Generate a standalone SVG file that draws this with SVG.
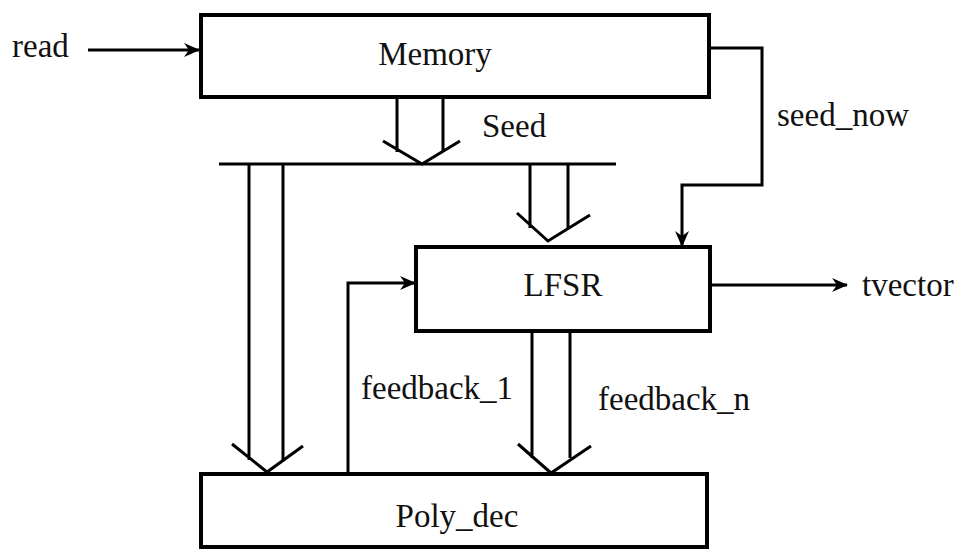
<svg xmlns="http://www.w3.org/2000/svg" width="962" height="550" viewBox="0 0 962 550">
<defs>
<marker id="ah" markerWidth="16" markerHeight="14" refX="15" refY="7" orient="auto" markerUnits="userSpaceOnUse">
<path d="M0,0 L16,7 L0,14 L5,7 Z" fill="#000"/>
</marker>
<style>
.box{fill:#fff;stroke:#000;stroke-width:4}
.ln{fill:none;stroke:#000;stroke-width:3}
.t{font-family:"Liberation Serif","Times New Roman",serif;font-size:33px;fill:#111}
</style>
</defs>
<rect width="962" height="550" fill="#fff"/>
<g id="connectors">
<path class="ln" d="M88,50 L199,50" marker-end="url(#ah)"/>
<path class="ln" d="M397,97 L397,152 M443,97 L443,152 M383,141 L422,164 L460,141"/>
<path class="ln" d="M219,164 L616,164"/>
<path class="ln" d="M249,164 L249,460 M283,164 L283,460 M232,444 L267,472 L303,446"/>
<path class="ln" d="M530,164 L530,228 M568,164 L568,228 M517,213 L548,241 L590,215"/>
<path class="ln" d="M532,331 L532,458 M570,331 L570,458 M518,444 L551,473 L591,446"/>
<path class="ln" d="M348,473 L348,283 L415,283" marker-end="url(#ah)"/>
<path class="ln" d="M709,48 L762,48 L762,185 L682,185 L682,246" marker-end="url(#ah)"/>
<path class="ln" d="M710,285 L847,285" marker-end="url(#ah)"/>
</g>
<g id="memory">
<rect class="box" x="201" y="15" width="508" height="82"/>
<text class="t" x="435" y="65" text-anchor="middle">Memory</text>
</g>
<g id="lfsr">
<rect class="box" x="416" y="247" width="294" height="84"/>
<text class="t" x="563" y="296" text-anchor="middle">LFSR</text>
</g>
<g id="polydec">
<rect class="box" x="201" y="474" width="506" height="73"/>
<text class="t" x="457" y="527" text-anchor="middle">Poly_dec</text>
</g>
<g id="labels">
<text class="t" x="12" y="57">read</text>
<text class="t" x="482" y="137">Seed</text>
<text class="t" x="777" y="126">seed_now</text>
<text class="t" x="862" y="296">tvector</text>
<text class="t" x="361" y="399">feedback_1</text>
<text class="t" x="598" y="410">feedback_n</text>
</g>
</svg>
